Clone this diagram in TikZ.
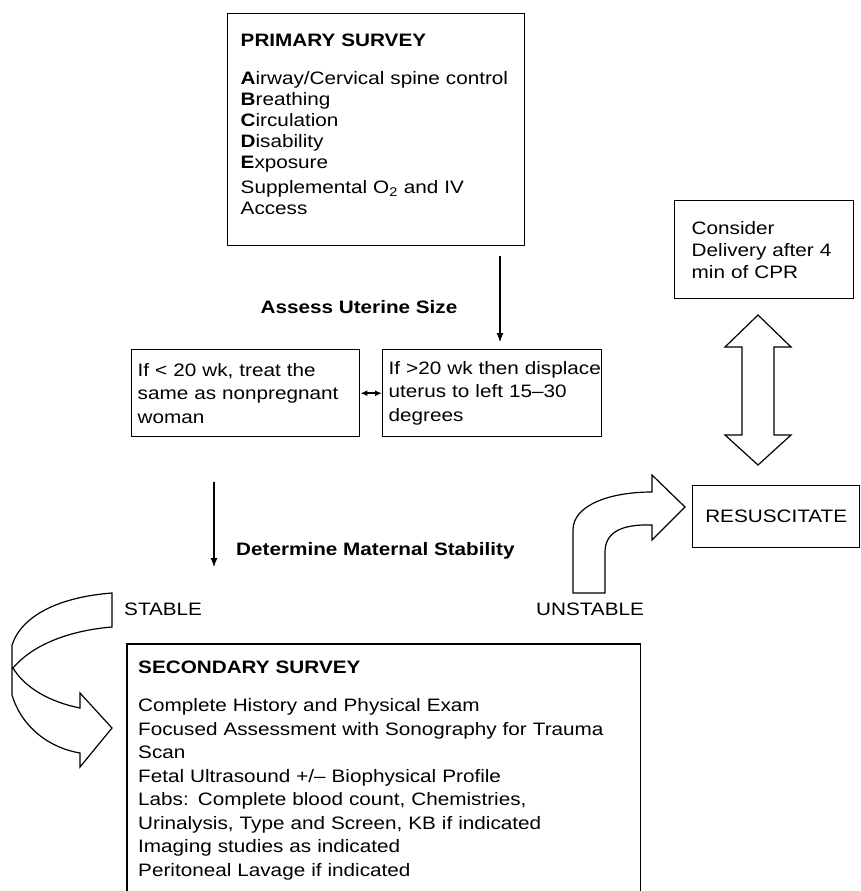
\documentclass[tikz,border=0pt]{standalone}
\usepackage{fontspec}
\setmainfont[FakeStretch=1.15]{Liberation Sans}
\usetikzlibrary{arrows.meta, positioning}

\begin{document}
\begin{tikzpicture}[
    x=1pt, y=-1pt,
    every node/.style={font=\fontsize{18}{21}\selectfont, inner sep=0pt},
    box/.style={rectangle, draw=black, line width=1.4pt, align=left, anchor=north west},
    tall/.style={font=\fontsize{18}{23.5}\selectfont},
    step_lbl/.style={font=\bfseries\fontsize{18}{21}\selectfont},
    arrow/.style={-{Latex[length=9pt, width=7pt]}, line width=1.1pt},
    link/.style={{Latex[length=7pt, width=6pt]}-{Latex[length=7pt, width=6pt]}, line width=1.5pt},
    hollow/.style={draw=black, line width=1.2pt, fill=white, line join=miter},
]
\useasboundingbox (0,0) rectangle (861,891);

% primary survey
\node[box, minimum width=297pt, minimum height=232pt, text width=271pt,
      inner xsep=13pt] (prim) at (227,13)
  {\textbf{PRIMARY SURVEY}\\[17pt]
   \mbox{\textbf{A}irway/Cervical spine control}\\
   \textbf{B}reathing\\
   \textbf{C}irculation\\
   \textbf{D}isability\\
   \textbf{E}xposure\\[4pt]
   Supplemental O\textsubscript{2} and IV\\
   Access\\[-11pt]\mbox{}};

\node[step_lbl] (assess) at (359,307) {Assess Uterine Size};
\coordinate (a1) at (500,256);
\coordinate (a2) at (500,342);

% uterine size
\node[box, tall, minimum width=228pt, minimum height=87pt, text width=216pt,
      inner xsep=6pt] (small) at (131,349)
  {If < 20 wk, treat the\\same as nonpregnant\\woman};
\node[box, tall, minimum width=219pt, minimum height=87pt, text width=207pt,
      inner xsep=6pt] (large) at (382,349)
  {\mbox{If >20 wk then displace}\\uterus to left 15–30\\degrees};

% right column
\node[box, font=\fontsize{18}{22}\selectfont, minimum width=179pt, minimum height=98pt,
      text width=145pt, inner xsep=17pt] (deliv) at (674,200)
  {Consider\\Delivery after 4\\min of CPR};
\node[box, align=center, minimum width=167pt, minimum height=62pt] (resus) at (692,485)
  {RESUSCITATE};

% stability
\coordinate (d1) at (214,482);
\coordinate (d2) at (214,567);
\node[step_lbl, anchor=west] (stab) at (236,551) {Determine Maternal Stability};
\node[anchor=west] (stable) at (124,609) {STABLE};
\node (unstable) at (590,609) {UNSTABLE};

% secondary survey
\node[tall, anchor=north west, align=left, text width=491pt, inner xsep=11pt,
      inner ysep=17pt] (sec) at (127,644)
  {\textbf{SECONDARY SURVEY}\\[14.5pt]
   Complete History and Physical Exam\\
   Focused Assessment with Sonography for Trauma\\
   Scan\\
   Fetal Ultrasound +/– Biophysical Profile\\
   Labs: Complete blood count, Chemistries,\\
   Urinalysis, Type and Screen, KB if indicated\\
   Imaging studies as indicated\\
   Peritoneal Lavage if indicated};
\draw[line width=1.4pt] (sec.north west |- 0,895) -- (sec.north west)
  -- (sec.north east) -- (sec.north east |- 0,895);

\draw[arrow] (a1) -- (a2);
\draw[arrow] (d1) -- (d2);
\draw[link] (small.east) -- (large.west);

% hollow arrows
\draw[hollow] (758,315) -- (791,347) -- (774,347) -- (774,435) -- (791,435)
  -- (758,465) -- (725,435) -- (742,435) -- (742,347) -- (725,347) -- cycle;
\draw[hollow] (573,593) -- (573,530) .. controls (573,505) and (610,492) .. (652,492)
  -- (652,475) -- (685,507) -- (652,540) -- (652,525)
  .. controls (622,524) and (605,532) .. (605,552) -- (605,593) -- cycle;
\draw[hollow] (112,593) .. controls (60,597) and (22,615) .. (12,645) -- (12,695)
  .. controls (22,728) and (50,748) .. (80,753) -- (80,767) -- (112,728)
  -- (80,693) -- (80,708) .. controls (50,702) and (25,688) .. (13,668)
  .. controls (35,642) and (75,630) .. (112,627) -- cycle;
\end{tikzpicture}
\end{document}
